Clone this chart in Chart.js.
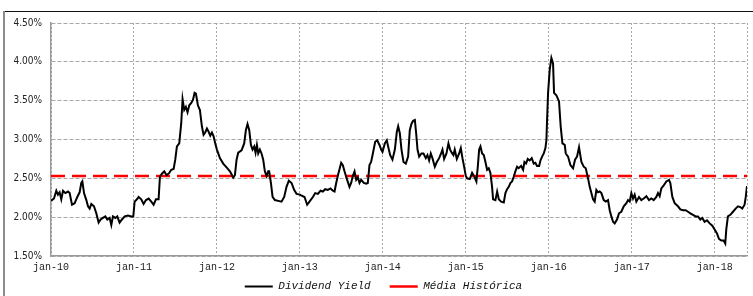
<!DOCTYPE html>
<html>
<head>
<meta charset="utf-8">
<script src="https://cdn.jsdelivr.net/npm/chart.js@4/dist/chart.umd.min.js"></script>
<style>
  html, body { margin: 0; padding: 0; background: #fff; }
  #wrap { width: 753px; height: 296px; position: relative; }
</style>
</head>
<body>
<div id="wrap"><canvas id="grafico"></canvas></div>
<script>
// anos desde jan-10 (fração do ano)
var anos = [
  0.0, 0.036, 0.064, 0.084, 0.104, 0.124, 0.145, 0.173, 0.205, 0.225, 0.253, 0.285, 0.317, 0.345, 0.365, 0.378, 0.398, 0.426, 0.446, 0.466,
  0.486, 0.518, 0.546, 0.574, 0.598, 0.626, 0.655, 0.679, 0.707, 0.727, 0.747, 0.775, 0.799, 0.827, 0.855, 0.888, 0.928, 0.968, 0.992,
  1.008, 1.036, 1.056, 1.088, 1.116, 1.145, 1.177, 1.209, 1.237, 1.265, 1.297, 1.313, 1.337, 1.365, 1.394, 1.426, 1.45, 1.478, 1.498,
  1.518, 1.546, 1.570, 1.586, 1.606, 1.626, 1.646, 1.667, 1.691, 1.711, 1.731, 1.747, 1.771, 1.795, 1.819, 1.839, 1.859, 1.88, 1.9,
  1.92, 1.94, 1.96, 1.98,
  2.0, 2.036, 2.076, 2.116, 2.157, 2.197, 2.217, 2.237, 2.257, 2.297, 2.329, 2.349, 2.369, 2.39, 2.41, 2.43, 2.45, 2.466, 2.482, 2.498,
  2.518, 2.538, 2.558, 2.578, 2.598, 2.618, 2.63, 2.651, 2.671, 2.699, 2.739, 2.779, 2.811, 2.839, 2.867, 2.9, 2.932, 2.96, 3.0,
  3.016, 3.056, 3.088, 3.116, 3.157, 3.185, 3.217, 3.249, 3.277, 3.305, 3.337, 3.369, 3.398, 3.418, 3.438, 3.466, 3.498, 3.518, 3.538,
  3.57, 3.598, 3.618, 3.638, 3.659, 3.679, 3.699, 3.719, 3.739, 3.771, 3.799, 3.819, 3.839, 3.859, 3.88, 3.908, 3.932, 3.96, 3.98,
  3.996, 4.024, 4.048, 4.064, 4.088, 4.116, 4.145, 4.169, 4.185, 4.205, 4.225, 4.249, 4.277, 4.305, 4.325, 4.345, 4.365, 4.386, 4.402,
  4.418, 4.438, 4.466, 4.49, 4.518, 4.538, 4.558, 4.578, 4.598, 4.627, 4.651, 4.679, 4.699, 4.719, 4.739, 4.767, 4.791, 4.811, 4.831,
  4.851, 4.867, 4.892, 4.92, 4.94, 4.96, 4.98,
  5.0, 5.016, 5.048, 5.076, 5.104, 5.128, 5.145, 5.161, 5.177, 5.197, 5.217, 5.237, 5.257, 5.277, 5.297, 5.317, 5.329, 5.357, 5.378,
  5.398, 5.426, 5.458, 5.478, 5.498, 5.518, 5.538, 5.558, 5.578, 5.598, 5.618, 5.638, 5.667, 5.691, 5.707, 5.727, 5.747, 5.771, 5.795,
  5.819, 5.839, 5.859, 5.884, 5.9, 5.92, 5.94, 5.96, 5.972, 5.98, 5.992, 6.012, 6.032, 6.052, 6.064, 6.092, 6.124, 6.144, 6.165, 6.193,
  6.205, 6.233, 6.261, 6.293, 6.317, 6.341, 6.365, 6.394, 6.422, 6.446, 6.474, 6.494, 6.514, 6.534, 6.554, 6.574, 6.594, 6.614, 6.635,
  6.663, 6.687, 6.715, 6.735, 6.755, 6.775, 6.795, 6.823, 6.847, 6.875, 6.904, 6.936, 6.956, 6.976, 6.996, 7.016, 7.036, 7.056, 7.088,
  7.116, 7.145, 7.177, 7.209, 7.237, 7.265, 7.297, 7.317, 7.337, 7.357, 7.386, 7.418, 7.45, 7.466, 7.49, 7.518, 7.558, 7.586, 7.618,
  7.65, 7.679, 7.707, 7.739, 7.771, 7.799, 7.827, 7.851, 7.879, 7.908, 7.94, 7.972, 8.0, 8.028, 8.052, 8.08, 8.108, 8.128, 8.14,
  8.16, 8.189, 8.221, 8.253, 8.281, 8.309, 8.333, 8.361, 8.375, 8.39
];

// dividend yield (%)
var dividendYield = [
  2.21, 2.24, 2.34, 2.29, 2.32, 2.23, 2.34, 2.31, 2.33, 2.31, 2.16, 2.18, 2.26, 2.32, 2.44, 2.46, 2.31, 2.22, 2.14, 2.11,
  2.17, 2.14, 2.05, 1.93, 1.97, 1.99, 2.01, 1.97, 1.99, 1.90, 2.01, 1.99, 2.01, 1.93, 1.97, 2.01, 2.02, 2.01, 2.01,
  2.20, 2.23, 2.26, 2.23, 2.17, 2.22, 2.24, 2.20, 2.16, 2.23, 2.23, 2.52, 2.56, 2.59, 2.54, 2.57, 2.61, 2.62, 2.74,
  2.91, 2.95, 3.21, 3.52, 3.38, 3.42, 3.35, 3.44, 3.47, 3.51, 3.60, 3.59, 3.44, 3.38, 3.17, 3.06, 3.09, 3.14, 3.10,
  3.05, 3.09, 3.04, 2.95,
  2.87, 2.76, 2.69, 2.64, 2.59, 2.51, 2.54, 2.74, 2.83, 2.86, 2.95, 3.12, 3.20, 3.12, 2.93, 2.87, 2.91, 2.83, 2.93, 2.82,
  2.87, 2.82, 2.74, 2.59, 2.53, 2.59, 2.59, 2.44, 2.26, 2.22, 2.21, 2.20, 2.26, 2.39, 2.47, 2.44, 2.35, 2.30, 2.29,
  2.28, 2.26, 2.16, 2.20, 2.26, 2.31, 2.30, 2.34, 2.33, 2.36, 2.35, 2.37, 2.34, 2.33, 2.44, 2.57, 2.70, 2.67, 2.59,
  2.48, 2.39, 2.44, 2.53, 2.59, 2.48, 2.51, 2.44, 2.48, 2.44, 2.43, 2.44, 2.67, 2.71, 2.82, 2.97, 2.99, 2.93, 2.87,
  2.84, 2.95, 2.99, 2.91, 2.80, 2.74, 2.87, 3.10, 3.17, 3.08, 2.87, 2.71, 2.69, 2.78, 3.12, 3.20, 3.24, 3.25, 3.08,
  2.87, 2.78, 2.82, 2.82, 2.76, 2.80, 2.73, 2.82, 2.76, 2.65, 2.71, 2.76, 2.81, 2.87, 2.75, 2.82, 2.95, 2.87, 2.83,
  2.80, 2.87, 2.75, 2.82, 2.89, 2.76, 2.65,
  2.53, 2.50, 2.49, 2.57, 2.52, 2.46, 2.65, 2.87, 2.91, 2.82, 2.80, 2.71, 2.61, 2.63, 2.57, 2.39, 2.23, 2.22, 2.33,
  2.23, 2.20, 2.19, 2.31, 2.36, 2.39, 2.44, 2.46, 2.52, 2.59, 2.65, 2.63, 2.66, 2.61, 2.71, 2.69, 2.75, 2.73, 2.76,
  2.69, 2.70, 2.66, 2.66, 2.73, 2.78, 2.82, 2.89, 2.99, 3.25, 3.60, 3.90, 4.05, 3.98, 3.60, 3.57, 3.49, 3.17, 2.95, 2.93,
  2.82, 2.78, 2.67, 2.63, 2.74, 2.78, 2.90, 2.71, 2.65, 2.63, 2.50, 2.39, 2.31, 2.23, 2.20, 2.35, 2.32, 2.33, 2.31,
  2.22, 2.20, 2.22, 2.09, 2.01, 1.94, 1.92, 1.97, 2.05, 2.07, 2.14, 2.18, 2.22, 2.20, 2.31, 2.24, 2.29, 2.20, 2.26,
  2.22, 2.24, 2.27, 2.22, 2.24, 2.22, 2.26, 2.31, 2.27, 2.37, 2.41, 2.46, 2.48, 2.44, 2.26, 2.18, 2.14, 2.10, 2.09,
  2.09, 2.07, 2.05, 2.03, 2.01, 2.01, 1.97, 1.99, 1.94, 1.96, 1.92, 1.89, 1.84, 1.79, 1.72, 1.70, 1.70, 1.66, 1.84,
  2.01, 2.03, 2.07, 2.11, 2.14, 2.13, 2.11, 2.16, 2.26, 2.40
];

var mediaHistorica = 2.53;
var anoInicial = 10;
var ultimoAno = 8.39;
var yTicks = [1.5, 2.0, 2.5, 3.0, 3.5, 4.0, 4.5];

var pontos = anos.map(function(t, i) { return { x: t, y: dividendYield[i] }; });
var linhaMedia = [{ x: 0, y: mediaHistorica }, { x: ultimoAno, y: mediaHistorica }];

// moldura externa + ajuste da posição da legenda
var moldura = {
  id: 'moldura',
  afterLayout: function(chart) {
    var lg = chart.legend;
    var h = lg.height;
    lg.top = 262;
    lg.bottom = lg.top + h;
    lg.left += 10;
    lg.right += 10;
  },
  beforeDraw: function(chart) {
    var ctx = chart.ctx;
    ctx.save();
    ctx.fillStyle = '#fff';
    ctx.fillRect(0, 0, chart.width, chart.height);
    ctx.strokeStyle = '#111';
    ctx.lineWidth = 1;
    ctx.beginPath();
    ctx.moveTo(4, 11.5);
    ctx.lineTo(chart.width, 11.5);
    ctx.stroke();
    ctx.strokeStyle = '#8c8c8c';
    ctx.lineWidth = 2;
    ctx.beginPath();
    ctx.moveTo(4, 11);
    ctx.lineTo(4, chart.height);
    ctx.stroke();
    ctx.restore();
  }
};

var ctx = document.getElementById('grafico').getContext('2d');
var grafico = new Chart(ctx, {
  type: 'line',
  data: {
    datasets: [{
      label: 'Dividend Yield',
      data: pontos,
      borderColor: '#000',
      backgroundColor: '#000',
      borderWidth: 2,
      pointRadius: 0,
      tension: 0
    }, {
      label: 'Média Histórica',
      data: linhaMedia,
      borderColor: '#ff0000',
      backgroundColor: '#ff0000',
      borderWidth: 2.5,
      borderDash: [14, 7],
      pointRadius: 0
    }]
  },
  options: {
    responsive: true,
    maintainAspectRatio: false,
    animation: false,
    layout: { padding: { left: 0, right: 6, top: 23, bottom: -18 } },
    plugins: {
      tooltip: { enabled: false },
      legend: {
        position: 'bottom',
        labels: {
          usePointStyle: true,
          pointStyle: 'line',
          pointStyleWidth: 28,
          boxWidth: 28,
          padding: 19,
          color: '#111',
          font: { family: "'Liberation Mono', monospace", size: 11, style: 'italic' }
        }
      }
    },
    scales: {
      x: {
        type: 'linear',
        min: 0,
        max: ultimoAno,
        afterBuildTicks: function(scale) {
          var t = [];
          for (var i = 0; i <= 8; i++) t.push({ value: i });
          t.push({ value: ultimoAno });
          scale.ticks = t;
        },
        afterFit: function(scale) { scale.height = 18; },
        ticks: {
          autoSkip: false,
          maxRotation: 0,
          padding: 5,
          color: '#222',
          font: { family: "'Liberation Mono', monospace", size: 10 },
          callback: function(v) {
            if (Math.abs(v - Math.round(v)) > 0.001) return '';
            return 'jan-' + (anoInicial + Math.round(v));
          }
        },
        grid: { color: '#a8a8a8', lineWidth: 1, drawTicks: false },
        border: { display: true, color: '#9a9a9a', width: 1.5, dash: [2, 2] }
      },
      y: {
        min: 1.5,
        max: 4.5,
        afterBuildTicks: function(scale) {
          scale.ticks = yTicks.map(function(v) { return { value: v }; });
        },
        afterFit: function(scale) { scale.width = 51; },
        ticks: {
          padding: 9,
          color: '#222',
          font: { family: "'DejaVu Sans Condensed', 'Liberation Sans', sans-serif", size: 10 },
          callback: function(v) { return v.toFixed(2) + '%'; }
        },
        grid: { color: '#a8a8a8', lineWidth: 1, drawTicks: false },
        border: { display: true, color: '#9a9a9a', width: 1.5, dash: [4, 2] }
      }
    }
  },
  plugins: [moldura]
});
</script>
</body>
</html>
